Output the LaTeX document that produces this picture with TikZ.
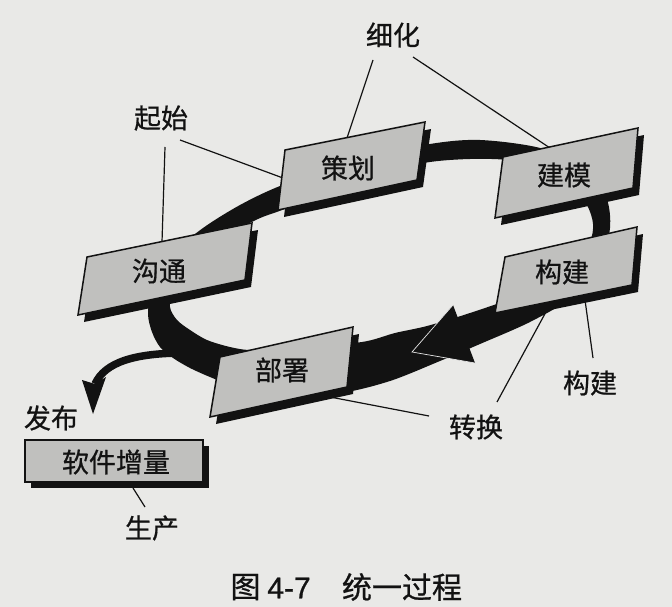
\documentclass[tikz,border=0pt]{standalone}
\usepackage{fontspec}
\setmainfont{Liberation Serif}
\newfontfamily\cjk[FakeBold=0.7]{Noto Sans CJK SC}
\newfontfamily\capsans[FakeBold=0.8]{Liberation Sans}
\usetikzlibrary{calc}
\definecolor{bg}{RGB}{233,233,231}
\definecolor{boxgray}{RGB}{192,192,190}
\definecolor{ink}{RGB}{18,18,18}
\tikzset{
  lbl/.style={font=\cjk\fontsize{27}{27}\selectfont, text=ink, inner sep=0pt},
  capcjk/.style={font=\cjk\fontsize{30}{30}\selectfont, text=ink, inner sep=0pt},
  capnum/.style={font=\capsans\fontsize{30}{30}\selectfont, text=ink, inner sep=0pt},
  leader/.style={draw=ink, line width=1.2pt},
  boxface/.style={fill=boxgray, draw=ink, line width=1.5pt, line join=miter},
  boxshadow/.style={fill=ink},
}
\newcommand{\pbox}[7]{%
  \fill[boxshadow] ($#2+(6,7)$) -- ($#3+(6,7)$) -- ($#4+(6,7)$) -- ($#5+(6,7)$) -- cycle;
  \draw[boxface] #2 -- #3 -- #4 -- #5 -- cycle;
  \node[lbl] (#1) at #6 {#7};}
\begin{document}
\begin{tikzpicture}[x=1pt,y=-1pt]
\useasboundingbox (0,0) rectangle (672,607);
\fill[bg] (0,0) rectangle (672,607);

% ring band
\fill[ink, even odd rule]
  plot[smooth cycle] coordinates {(148,313) (153,283) (172,254) (203,228) (240,205) (280,186) (350,161) (430,144) (480,140) (540,148) (583,168) (606,197) (610,228) (600,262) (572,297) (530,322) (480,344) (440,361) (390,381) (340,393) (280,394) (232,385) (210,377) (190,368) (173,358) (160,347) (152,332)}
  plot[smooth cycle] coordinates {(170,307) (177,320) (190,330) (207,340) (230,347) (252,350) (300,347) (362,342) (395,333) (427,326) (470,313) (520,295) (565,270) (589,243) (593,224) (587,205) (572,186) (540,168) (507,160) (470,159) (430,162) (380,172) (330,190) (282,210) (258,219) (218,240) (187,265) (173,288)};

% branch to release
\coordinate (brS) at (185,353);
\coordinate (brE) at (95,384);
\draw[ink, line width=7.5pt] (brS) .. controls (135,353) and (105,362) .. (brE);
\fill[ink] (82,380) -- (95,384) -- (106,377) -- (93,414) -- cycle;

% arrowhead on ring
\coordinate (ahT) at (412,352);
\coordinate (ahU) at (453,305);
\coordinate (ahL) at (475,363);
\fill[ink] (ahT) -- (ahU) -- (ahL) -- cycle;
\draw[white!80!gray, line width=0.7pt] (ahU) -- (ahT) -- (ahL);

% labels
\node[lbl] (xihua) at (393,35) {细化};
\node[lbl] (qishi) at (161,118) {起始};
\node[lbl] (goujianL) at (590,383) {构建};
\node[lbl] (zhuanhuan) at (476,427) {转换};
\node[lbl] (fabu) at (51,418) {发布};
\node[lbl] (shengchan) at (152,528) {生产};

% leader ends
\coordinate (xh1) at (373,60);   \coordinate (chT) at (347,138);
\coordinate (xh2) at (413,57);   \coordinate (jmT) at (550,148);
\coordinate (qs1) at (165,147);  \coordinate (gtT) at (162,242);
\coordinate (qs2) at (180,140);  \coordinate (chL) at (283,178);
\coordinate (gl1) at (593,358);  \coordinate (gjB) at (585,300);
\coordinate (zh1) at (497,402);  \coordinate (gjB2) at (547,310);
\coordinate (zh2) at (429,416);  \coordinate (bsB) at (330,397);
\coordinate (sc1) at (145,507);  \coordinate (rjB) at (133,488);
\draw[leader] (xh1) -- (chT);
\draw[leader] (xh2) -- (jmT);
\draw[leader] (qs1) -- (gtT);
\draw[leader] (qs2) -- (chL);
\draw[leader] (gl1) -- (gjB);
\draw[leader] (zh1) -- (gjB2);
\draw[leader] (zh2) -- (bsB);
\draw[leader] (sc1) -- (rjB);

% boxes
\pbox{cehua}{(285,150)}{(425,122)}{(417,180)}{(278,210)}{(348,168)}{策划}
\pbox{jianmo}{(503,157)}{(638,128)}{(633,188)}{(495,218)}{(564,175)}{建模}
\pbox{goujian}{(505,257)}{(637,227)}{(632,285)}{(495,313)}{(562,272)}{构建}
\pbox{goutong}{(87,257)}{(252,223)}{(245,280)}{(78,315)}{(159,271)}{沟通}
\pbox{bushu}{(220,357)}{(353,327)}{(347,387)}{(210,417)}{(282,370)}{部署}
\fill[boxshadow] (31,446) rectangle (209,488);
\draw[boxface] (25,440) rectangle (203,482);
\node[lbl] (ruanjian) at (116,462) {软件增量};

% caption
\node[capcjk] (cap1) at (245.5,587) {图};
\node[capnum] (cap2) at (289,588) {4-7};
\node[capcjk] (cap3) at (402,587) {统一过程};
\end{tikzpicture}
\end{document}
